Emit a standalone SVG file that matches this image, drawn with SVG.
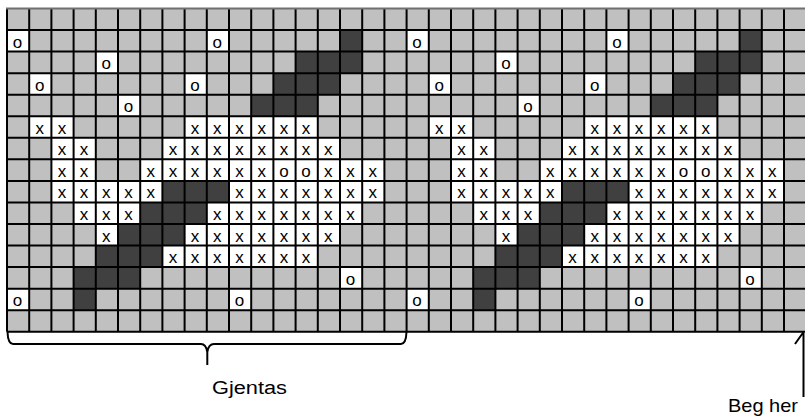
<svg xmlns="http://www.w3.org/2000/svg" width="805" height="418" viewBox="0 0 805 418">
<style>
.w{fill:#ffffff}
.d{fill:#404040}
.t{font-family:"Liberation Sans",Arial,sans-serif;font-size:17px;fill:#000;text-anchor:middle}
.lbl{font-family:"Liberation Sans",Arial,sans-serif;font-size:18px;fill:#000}
.ln{fill:none;stroke:#000;stroke-width:2}
</style>
<rect x="0" y="0" width="805" height="418" fill="#ffffff"/>
<rect x="7" y="8.5" width="799.2" height="323.25" fill="#c0c0c0"/>
<g id="repeat1">
<rect class="w" x="7" y="30.05" width="22.2" height="21.55"/>
<rect class="w" x="206.8" y="30.05" width="22.2" height="21.55"/>
<rect class="w" x="95.8" y="51.6" width="22.2" height="21.55"/>
<rect class="w" x="29.2" y="73.15" width="22.2" height="21.55"/>
<rect class="w" x="184.6" y="73.15" width="22.2" height="21.55"/>
<rect class="w" x="118" y="94.7" width="22.2" height="21.55"/>
<rect class="w" x="29.2" y="116.25" width="44.4" height="21.55"/>
<rect class="w" x="184.6" y="116.25" width="133.2" height="21.55"/>
<rect class="w" x="51.4" y="137.8" width="44.4" height="21.55"/>
<rect class="w" x="162.4" y="137.8" width="177.6" height="21.55"/>
<rect class="w" x="51.4" y="159.35" width="44.4" height="21.55"/>
<rect class="w" x="140.2" y="159.35" width="244.2" height="21.55"/>
<rect class="w" x="51.4" y="180.9" width="111" height="21.55"/>
<rect class="w" x="229" y="180.9" width="155.4" height="21.55"/>
<rect class="w" x="73.6" y="202.45" width="66.6" height="21.55"/>
<rect class="w" x="206.8" y="202.45" width="155.4" height="21.55"/>
<rect class="w" x="95.8" y="224" width="22.2" height="21.55"/>
<rect class="w" x="184.6" y="224" width="155.4" height="21.55"/>
<rect class="w" x="162.4" y="245.55" width="155.4" height="21.55"/>
<rect class="w" x="340" y="267.1" width="22.2" height="21.55"/>
<rect class="w" x="7" y="288.65" width="22.2" height="21.55"/>
<rect class="w" x="229" y="288.65" width="22.2" height="21.55"/>
<rect class="d" x="340" y="30.05" width="22.2" height="21.55"/>
<rect class="d" x="295.6" y="51.6" width="66.6" height="21.55"/>
<rect class="d" x="273.4" y="73.15" width="66.6" height="21.55"/>
<rect class="d" x="251.2" y="94.7" width="66.6" height="21.55"/>
<rect class="d" x="162.4" y="180.9" width="66.6" height="21.55"/>
<rect class="d" x="140.2" y="202.45" width="66.6" height="21.55"/>
<rect class="d" x="118" y="224" width="66.6" height="21.55"/>
<rect class="d" x="95.8" y="245.55" width="66.6" height="21.55"/>
<rect class="d" x="73.6" y="267.1" width="66.6" height="21.55"/>
<rect class="d" x="73.6" y="288.65" width="22.2" height="21.55"/>
</g>
<g id="repeat2" transform="translate(399.6,0)">
<rect class="w" x="7" y="30.05" width="22.2" height="21.55"/>
<rect class="w" x="206.8" y="30.05" width="22.2" height="21.55"/>
<rect class="w" x="95.8" y="51.6" width="22.2" height="21.55"/>
<rect class="w" x="29.2" y="73.15" width="22.2" height="21.55"/>
<rect class="w" x="184.6" y="73.15" width="22.2" height="21.55"/>
<rect class="w" x="118" y="94.7" width="22.2" height="21.55"/>
<rect class="w" x="29.2" y="116.25" width="44.4" height="21.55"/>
<rect class="w" x="184.6" y="116.25" width="133.2" height="21.55"/>
<rect class="w" x="51.4" y="137.8" width="44.4" height="21.55"/>
<rect class="w" x="162.4" y="137.8" width="177.6" height="21.55"/>
<rect class="w" x="51.4" y="159.35" width="44.4" height="21.55"/>
<rect class="w" x="140.2" y="159.35" width="244.2" height="21.55"/>
<rect class="w" x="51.4" y="180.9" width="111" height="21.55"/>
<rect class="w" x="229" y="180.9" width="155.4" height="21.55"/>
<rect class="w" x="73.6" y="202.45" width="66.6" height="21.55"/>
<rect class="w" x="206.8" y="202.45" width="155.4" height="21.55"/>
<rect class="w" x="95.8" y="224" width="22.2" height="21.55"/>
<rect class="w" x="184.6" y="224" width="155.4" height="21.55"/>
<rect class="w" x="162.4" y="245.55" width="155.4" height="21.55"/>
<rect class="w" x="340" y="267.1" width="22.2" height="21.55"/>
<rect class="w" x="7" y="288.65" width="22.2" height="21.55"/>
<rect class="w" x="229" y="288.65" width="22.2" height="21.55"/>
<rect class="d" x="340" y="30.05" width="22.2" height="21.55"/>
<rect class="d" x="295.6" y="51.6" width="66.6" height="21.55"/>
<rect class="d" x="273.4" y="73.15" width="66.6" height="21.55"/>
<rect class="d" x="251.2" y="94.7" width="66.6" height="21.55"/>
<rect class="d" x="162.4" y="180.9" width="66.6" height="21.55"/>
<rect class="d" x="140.2" y="202.45" width="66.6" height="21.55"/>
<rect class="d" x="118" y="224" width="66.6" height="21.55"/>
<rect class="d" x="95.8" y="245.55" width="66.6" height="21.55"/>
<rect class="d" x="73.6" y="267.1" width="66.6" height="21.55"/>
<rect class="d" x="73.6" y="288.65" width="22.2" height="21.55"/>
</g>
<g id="gridlines">
<path class="ln" d="M7 8.5V331.75M29.2 8.5V331.75M51.4 8.5V331.75M73.6 8.5V331.75M95.8 8.5V331.75M118 8.5V331.75M140.2 8.5V331.75M162.4 8.5V331.75M184.6 8.5V331.75M206.8 8.5V331.75M229 8.5V331.75M251.2 8.5V331.75M273.4 8.5V331.75M295.6 8.5V331.75M317.8 8.5V331.75M340 8.5V331.75M362.2 8.5V331.75M384.4 8.5V331.75M406.6 8.5V331.75M428.8 8.5V331.75M451 8.5V331.75M473.2 8.5V331.75M495.4 8.5V331.75M517.6 8.5V331.75M539.8 8.5V331.75M562 8.5V331.75M584.2 8.5V331.75M606.4 8.5V331.75M628.6 8.5V331.75M650.8 8.5V331.75M673 8.5V331.75M695.2 8.5V331.75M717.4 8.5V331.75M739.6 8.5V331.75M761.8 8.5V331.75M784 8.5V331.75M806.2 8.5V331.75"/>
<path class="ln" d="M7 30.05H806.2M7 51.6H806.2M7 73.15H806.2M7 94.7H806.2M7 116.25H806.2M7 137.8H806.2M7 159.35H806.2M7 180.9H806.2M7 202.45H806.2M7 224H806.2M7 245.55H806.2M7 267.1H806.2M7 288.65H806.2M7 310.2H806.2M7 331.75H806.2"/>
<path d="M6 8.5H806.2" fill="none" stroke="#707070" stroke-width="2"/>
</g>
<g id="symbols1">
<text class="t" x="17.5" y="47.55">o</text>
<text class="t" x="217.3" y="47.55">o</text>
<text class="t" x="106.3" y="69.1">o</text>
<text class="t" x="39.7" y="90.65">o</text>
<text class="t" x="195.1" y="90.65">o</text>
<text class="t" x="128.5" y="112.2">o</text>
<text class="t" x="39.7" y="133.75">x</text>
<text class="t" x="61.9" y="133.75">x</text>
<text class="t" x="195.1" y="133.75">x</text>
<text class="t" x="217.3" y="133.75">x</text>
<text class="t" x="239.5" y="133.75">x</text>
<text class="t" x="261.7" y="133.75">x</text>
<text class="t" x="283.9" y="133.75">x</text>
<text class="t" x="306.1" y="133.75">x</text>
<text class="t" x="61.9" y="155.3">x</text>
<text class="t" x="84.1" y="155.3">x</text>
<text class="t" x="172.9" y="155.3">x</text>
<text class="t" x="195.1" y="155.3">x</text>
<text class="t" x="217.3" y="155.3">x</text>
<text class="t" x="239.5" y="155.3">x</text>
<text class="t" x="261.7" y="155.3">x</text>
<text class="t" x="283.9" y="155.3">x</text>
<text class="t" x="306.1" y="155.3">x</text>
<text class="t" x="328.3" y="155.3">x</text>
<text class="t" x="61.9" y="176.85">x</text>
<text class="t" x="84.1" y="176.85">x</text>
<text class="t" x="150.7" y="176.85">x</text>
<text class="t" x="172.9" y="176.85">x</text>
<text class="t" x="195.1" y="176.85">x</text>
<text class="t" x="217.3" y="176.85">x</text>
<text class="t" x="239.5" y="176.85">x</text>
<text class="t" x="261.7" y="176.85">x</text>
<text class="t" x="283.9" y="176.85">o</text>
<text class="t" x="306.1" y="176.85">o</text>
<text class="t" x="328.3" y="176.85">x</text>
<text class="t" x="350.5" y="176.85">x</text>
<text class="t" x="372.7" y="176.85">x</text>
<text class="t" x="61.9" y="198.4">x</text>
<text class="t" x="84.1" y="198.4">x</text>
<text class="t" x="106.3" y="198.4">x</text>
<text class="t" x="128.5" y="198.4">x</text>
<text class="t" x="150.7" y="198.4">x</text>
<text class="t" x="239.5" y="198.4">x</text>
<text class="t" x="261.7" y="198.4">x</text>
<text class="t" x="283.9" y="198.4">x</text>
<text class="t" x="306.1" y="198.4">x</text>
<text class="t" x="328.3" y="198.4">x</text>
<text class="t" x="350.5" y="198.4">x</text>
<text class="t" x="372.7" y="198.4">x</text>
<text class="t" x="84.1" y="219.95">x</text>
<text class="t" x="106.3" y="219.95">x</text>
<text class="t" x="128.5" y="219.95">x</text>
<text class="t" x="217.3" y="219.95">x</text>
<text class="t" x="239.5" y="219.95">x</text>
<text class="t" x="261.7" y="219.95">x</text>
<text class="t" x="283.9" y="219.95">x</text>
<text class="t" x="306.1" y="219.95">x</text>
<text class="t" x="328.3" y="219.95">x</text>
<text class="t" x="350.5" y="219.95">x</text>
<text class="t" x="106.3" y="241.5">x</text>
<text class="t" x="195.1" y="241.5">x</text>
<text class="t" x="217.3" y="241.5">x</text>
<text class="t" x="239.5" y="241.5">x</text>
<text class="t" x="261.7" y="241.5">x</text>
<text class="t" x="283.9" y="241.5">x</text>
<text class="t" x="306.1" y="241.5">x</text>
<text class="t" x="328.3" y="241.5">x</text>
<text class="t" x="172.9" y="263.05">x</text>
<text class="t" x="195.1" y="263.05">x</text>
<text class="t" x="217.3" y="263.05">x</text>
<text class="t" x="239.5" y="263.05">x</text>
<text class="t" x="261.7" y="263.05">x</text>
<text class="t" x="283.9" y="263.05">x</text>
<text class="t" x="306.1" y="263.05">x</text>
<text class="t" x="350.5" y="284.6">o</text>
<text class="t" x="17.5" y="306.15">o</text>
<text class="t" x="239.5" y="306.15">o</text>
</g>
<g id="symbols2" transform="translate(399.6,0)">
<text class="t" x="17.5" y="47.55">o</text>
<text class="t" x="217.3" y="47.55">o</text>
<text class="t" x="106.3" y="69.1">o</text>
<text class="t" x="39.7" y="90.65">o</text>
<text class="t" x="195.1" y="90.65">o</text>
<text class="t" x="128.5" y="112.2">o</text>
<text class="t" x="39.7" y="133.75">x</text>
<text class="t" x="61.9" y="133.75">x</text>
<text class="t" x="195.1" y="133.75">x</text>
<text class="t" x="217.3" y="133.75">x</text>
<text class="t" x="239.5" y="133.75">x</text>
<text class="t" x="261.7" y="133.75">x</text>
<text class="t" x="283.9" y="133.75">x</text>
<text class="t" x="306.1" y="133.75">x</text>
<text class="t" x="61.9" y="155.3">x</text>
<text class="t" x="84.1" y="155.3">x</text>
<text class="t" x="172.9" y="155.3">x</text>
<text class="t" x="195.1" y="155.3">x</text>
<text class="t" x="217.3" y="155.3">x</text>
<text class="t" x="239.5" y="155.3">x</text>
<text class="t" x="261.7" y="155.3">x</text>
<text class="t" x="283.9" y="155.3">x</text>
<text class="t" x="306.1" y="155.3">x</text>
<text class="t" x="328.3" y="155.3">x</text>
<text class="t" x="61.9" y="176.85">x</text>
<text class="t" x="84.1" y="176.85">x</text>
<text class="t" x="150.7" y="176.85">x</text>
<text class="t" x="172.9" y="176.85">x</text>
<text class="t" x="195.1" y="176.85">x</text>
<text class="t" x="217.3" y="176.85">x</text>
<text class="t" x="239.5" y="176.85">x</text>
<text class="t" x="261.7" y="176.85">x</text>
<text class="t" x="283.9" y="176.85">o</text>
<text class="t" x="306.1" y="176.85">o</text>
<text class="t" x="328.3" y="176.85">x</text>
<text class="t" x="350.5" y="176.85">x</text>
<text class="t" x="372.7" y="176.85">x</text>
<text class="t" x="61.9" y="198.4">x</text>
<text class="t" x="84.1" y="198.4">x</text>
<text class="t" x="106.3" y="198.4">x</text>
<text class="t" x="128.5" y="198.4">x</text>
<text class="t" x="150.7" y="198.4">x</text>
<text class="t" x="239.5" y="198.4">x</text>
<text class="t" x="261.7" y="198.4">x</text>
<text class="t" x="283.9" y="198.4">x</text>
<text class="t" x="306.1" y="198.4">x</text>
<text class="t" x="328.3" y="198.4">x</text>
<text class="t" x="350.5" y="198.4">x</text>
<text class="t" x="372.7" y="198.4">x</text>
<text class="t" x="84.1" y="219.95">x</text>
<text class="t" x="106.3" y="219.95">x</text>
<text class="t" x="128.5" y="219.95">x</text>
<text class="t" x="217.3" y="219.95">x</text>
<text class="t" x="239.5" y="219.95">x</text>
<text class="t" x="261.7" y="219.95">x</text>
<text class="t" x="283.9" y="219.95">x</text>
<text class="t" x="306.1" y="219.95">x</text>
<text class="t" x="328.3" y="219.95">x</text>
<text class="t" x="350.5" y="219.95">x</text>
<text class="t" x="106.3" y="241.5">x</text>
<text class="t" x="195.1" y="241.5">x</text>
<text class="t" x="217.3" y="241.5">x</text>
<text class="t" x="239.5" y="241.5">x</text>
<text class="t" x="261.7" y="241.5">x</text>
<text class="t" x="283.9" y="241.5">x</text>
<text class="t" x="306.1" y="241.5">x</text>
<text class="t" x="328.3" y="241.5">x</text>
<text class="t" x="172.9" y="263.05">x</text>
<text class="t" x="195.1" y="263.05">x</text>
<text class="t" x="217.3" y="263.05">x</text>
<text class="t" x="239.5" y="263.05">x</text>
<text class="t" x="261.7" y="263.05">x</text>
<text class="t" x="283.9" y="263.05">x</text>
<text class="t" x="306.1" y="263.05">x</text>
<text class="t" x="350.5" y="284.6">o</text>
<text class="t" x="17.5" y="306.15">o</text>
<text class="t" x="239.5" y="306.15">o</text>
</g>
<g id="connectors">
<path class="ln" d="M7.5 332Q8 344 13 344H201Q206 344 207.3 352M207.3 352Q208.5 344 214 344H401Q406 344 406.5 332M207.3 350V365"/>
<path class="ln" d="M803.5 333V397M795 344L803.5 332"/>
</g>
<g id="labels">
<text class="lbl" x="212" y="394" textLength="75" lengthAdjust="spacingAndGlyphs">Gjentas</text>
<text class="lbl" x="728" y="412" style="font-size:19px" textLength="70" lengthAdjust="spacingAndGlyphs">Beg her</text>
</g>
</svg>
